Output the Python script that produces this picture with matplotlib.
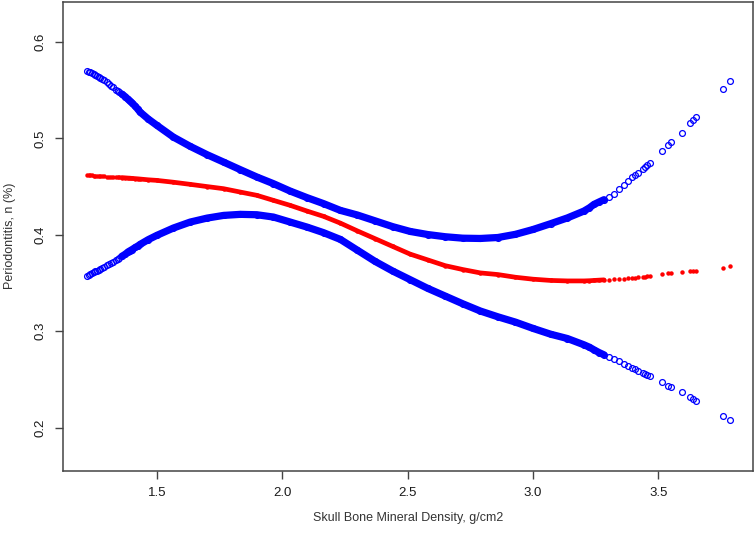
import numpy as np
import matplotlib
matplotlib.use('Agg')
import matplotlib.pyplot as plt

plt.rcParams['font.family'] = ['Liberation Sans', 'DejaVu Sans']

# skull BMD values (g/cm2)
bmd = np.array([1.223, 1.230, 1.235, 1.240, 1.248, 1.255, 1.260, 1.268, 1.275, 1.280,
                1.290, 1.300, 1.310, 1.318, 1.325, 1.338, 1.345, 1.350, 1.360, 1.375,
                1.385, 1.392, 1.400, 1.415, 1.425, 1.433, 1.466, 1.500, 1.566, 1.633,
                1.700, 1.766, 1.833, 1.899, 1.965, 2.032, 2.099, 2.165, 2.232, 2.300,
                2.370, 2.440, 2.510, 2.580, 2.650, 2.720, 2.790, 2.860, 2.930, 3.000,
                3.070, 3.137, 3.203, 3.225, 3.243, 3.263, 3.283, 3.303, 3.323, 3.343,
                3.363, 3.380, 3.396, 3.408, 3.419, 3.437, 3.445, 3.456, 3.466, 3.516,
                3.540, 3.549, 3.593, 3.626, 3.636, 3.649, 3.758, 3.785])

# upper 95% CI
upper = np.array([0.5700, 0.5690, 0.5683, 0.5675, 0.5663, 0.5652, 0.5645, 0.5633, 0.5622, 0.5615,
                  0.5600, 0.5584, 0.5562, 0.5546, 0.5530, 0.5505, 0.5490, 0.5480, 0.5460, 0.5430,
                  0.5405, 0.5388, 0.5370, 0.5330, 0.5300, 0.5273, 0.5200, 0.5135, 0.5013, 0.4917,
                  0.4831, 0.4754, 0.4675, 0.4599, 0.4530, 0.4453, 0.4385, 0.4323, 0.4253, 0.4205,
                  0.4145, 0.4085, 0.4035, 0.4003, 0.3980, 0.3965, 0.3962, 0.3972, 0.4005, 0.4055,
                  0.4115, 0.4175, 0.4246, 0.4280, 0.4315, 0.4340, 0.4364, 0.4395, 0.4426, 0.4470,
                  0.4520, 0.4560, 0.4599, 0.4620, 0.4644, 0.4685, 0.4705, 0.4727, 0.4748, 0.4865,
                  0.4930, 0.4960, 0.5055, 0.5160, 0.5190, 0.5220, 0.5516, 0.5594])

# estimate
est = np.array([0.4620, 0.4618, 0.4617, 0.4616, 0.4614, 0.4613, 0.4612, 0.4610, 0.4609, 0.4608,
                0.4606, 0.4604, 0.4602, 0.4601, 0.4600, 0.4598, 0.4596, 0.4595, 0.4593, 0.4590,
                0.4588, 0.4587, 0.4585, 0.4582, 0.4580, 0.4578, 0.4570, 0.4564, 0.4545, 0.4523,
                0.4500, 0.4478, 0.4443, 0.4409, 0.4357, 0.4305, 0.4246, 0.4191, 0.4121, 0.4040,
                0.3960, 0.3880, 0.3800, 0.3740, 0.3680, 0.3640, 0.3605, 0.3588, 0.3560, 0.3540,
                0.3527, 0.3522, 0.3522, 0.3524, 0.3527, 0.3530, 0.3533, 0.3535, 0.3538, 0.3543,
                0.3547, 0.3550, 0.3553, 0.3557, 0.3561, 0.3565, 0.3567, 0.3570, 0.3572, 0.3592,
                0.3600, 0.3603, 0.3617, 0.3627, 0.3628, 0.3630, 0.3659, 0.3672])

# lower 95% CI
lower = np.array([0.3570, 0.3585, 0.3595, 0.3605, 0.3615, 0.3624, 0.3630, 0.3640, 0.3649, 0.3655,
                  0.3669, 0.3683, 0.3697, 0.3709, 0.3720, 0.3740, 0.3752, 0.3760, 0.3776, 0.3800,
                  0.3822, 0.3833, 0.3845, 0.3870, 0.3885, 0.3900, 0.3950, 0.3994, 0.4070, 0.4132,
                  0.4173, 0.4201, 0.4212, 0.4208, 0.4184, 0.4132, 0.4080, 0.4022, 0.3952, 0.3840,
                  0.3725, 0.3625, 0.3535, 0.3445, 0.3365, 0.3285, 0.3210, 0.3150, 0.3095, 0.3030,
                  0.2970, 0.2925, 0.2860, 0.2835, 0.2808, 0.2780, 0.2756, 0.2735, 0.2715, 0.2690,
                  0.2665, 0.2645, 0.2622, 0.2610, 0.2593, 0.2570, 0.2560, 0.2550, 0.2541, 0.2472,
                  0.2430, 0.2420, 0.2368, 0.2320, 0.2300, 0.2282, 0.2127, 0.2085])

xticks = [1.5, 2.0, 2.5, 3.0, 3.5]
yticks = [0.2, 0.3, 0.4, 0.5, 0.6]

fig = plt.figure(figsize=(7.56, 5.35), dpi=100)
ax = fig.add_axes([0.083, 0.12, 0.913, 0.877])

# the crowded middle of the data shows as a solid band
dense = (bmd > 1.35) & (bmd < 3.30)
ax.plot(bmd[dense], upper[dense], color='blue', lw=5.2, solid_capstyle='round')
ax.plot(bmd[dense], lower[dense], color='blue', lw=5.2, solid_capstyle='round')
ax.plot(bmd[dense], est[dense], color='red', lw=3.4, solid_capstyle='round')

ax.plot(bmd, upper, 'o', ms=4.2, mfc='none', mec='blue', mew=0.9)
ax.plot(bmd, lower, 'o', ms=4.2, mfc='none', mec='blue', mew=0.9)
ax.plot(bmd, est, 'o', ms=3.2, color='red', mew=0)

ax.set_xlim(1.125, 3.877)
ax.set_ylim(0.1554, 0.6417)
ax.set_xticks(xticks)
ax.set_xticklabels(['1.5', '2.0', '2.5', '3.0', '3.5'])
ax.set_yticks(yticks)
ax.set_yticklabels(['0.2', '0.3', '0.4', '0.5', '0.6'], rotation=90, va='center')
ax.tick_params(length=5.5, width=1.0, color='#444444', labelsize=9.5, labelcolor='#1a1a1a', pad=6)

for s in ax.spines.values():
    s.set_color('#444444')
    s.set_linewidth(1.1)

fig.text(0.083 + 0.913 / 2, 0.032, 'Skull Bone Mineral Density, g/cm2',
         ha='center', va='center', fontsize=9, color='#333333')
fig.text(0.013, 0.12 + 0.877 / 2, 'Periodontitis, n (%)', rotation=90,
         ha='center', va='center', fontsize=9, color='#333333')

plt.savefig('out.png', dpi=100)
